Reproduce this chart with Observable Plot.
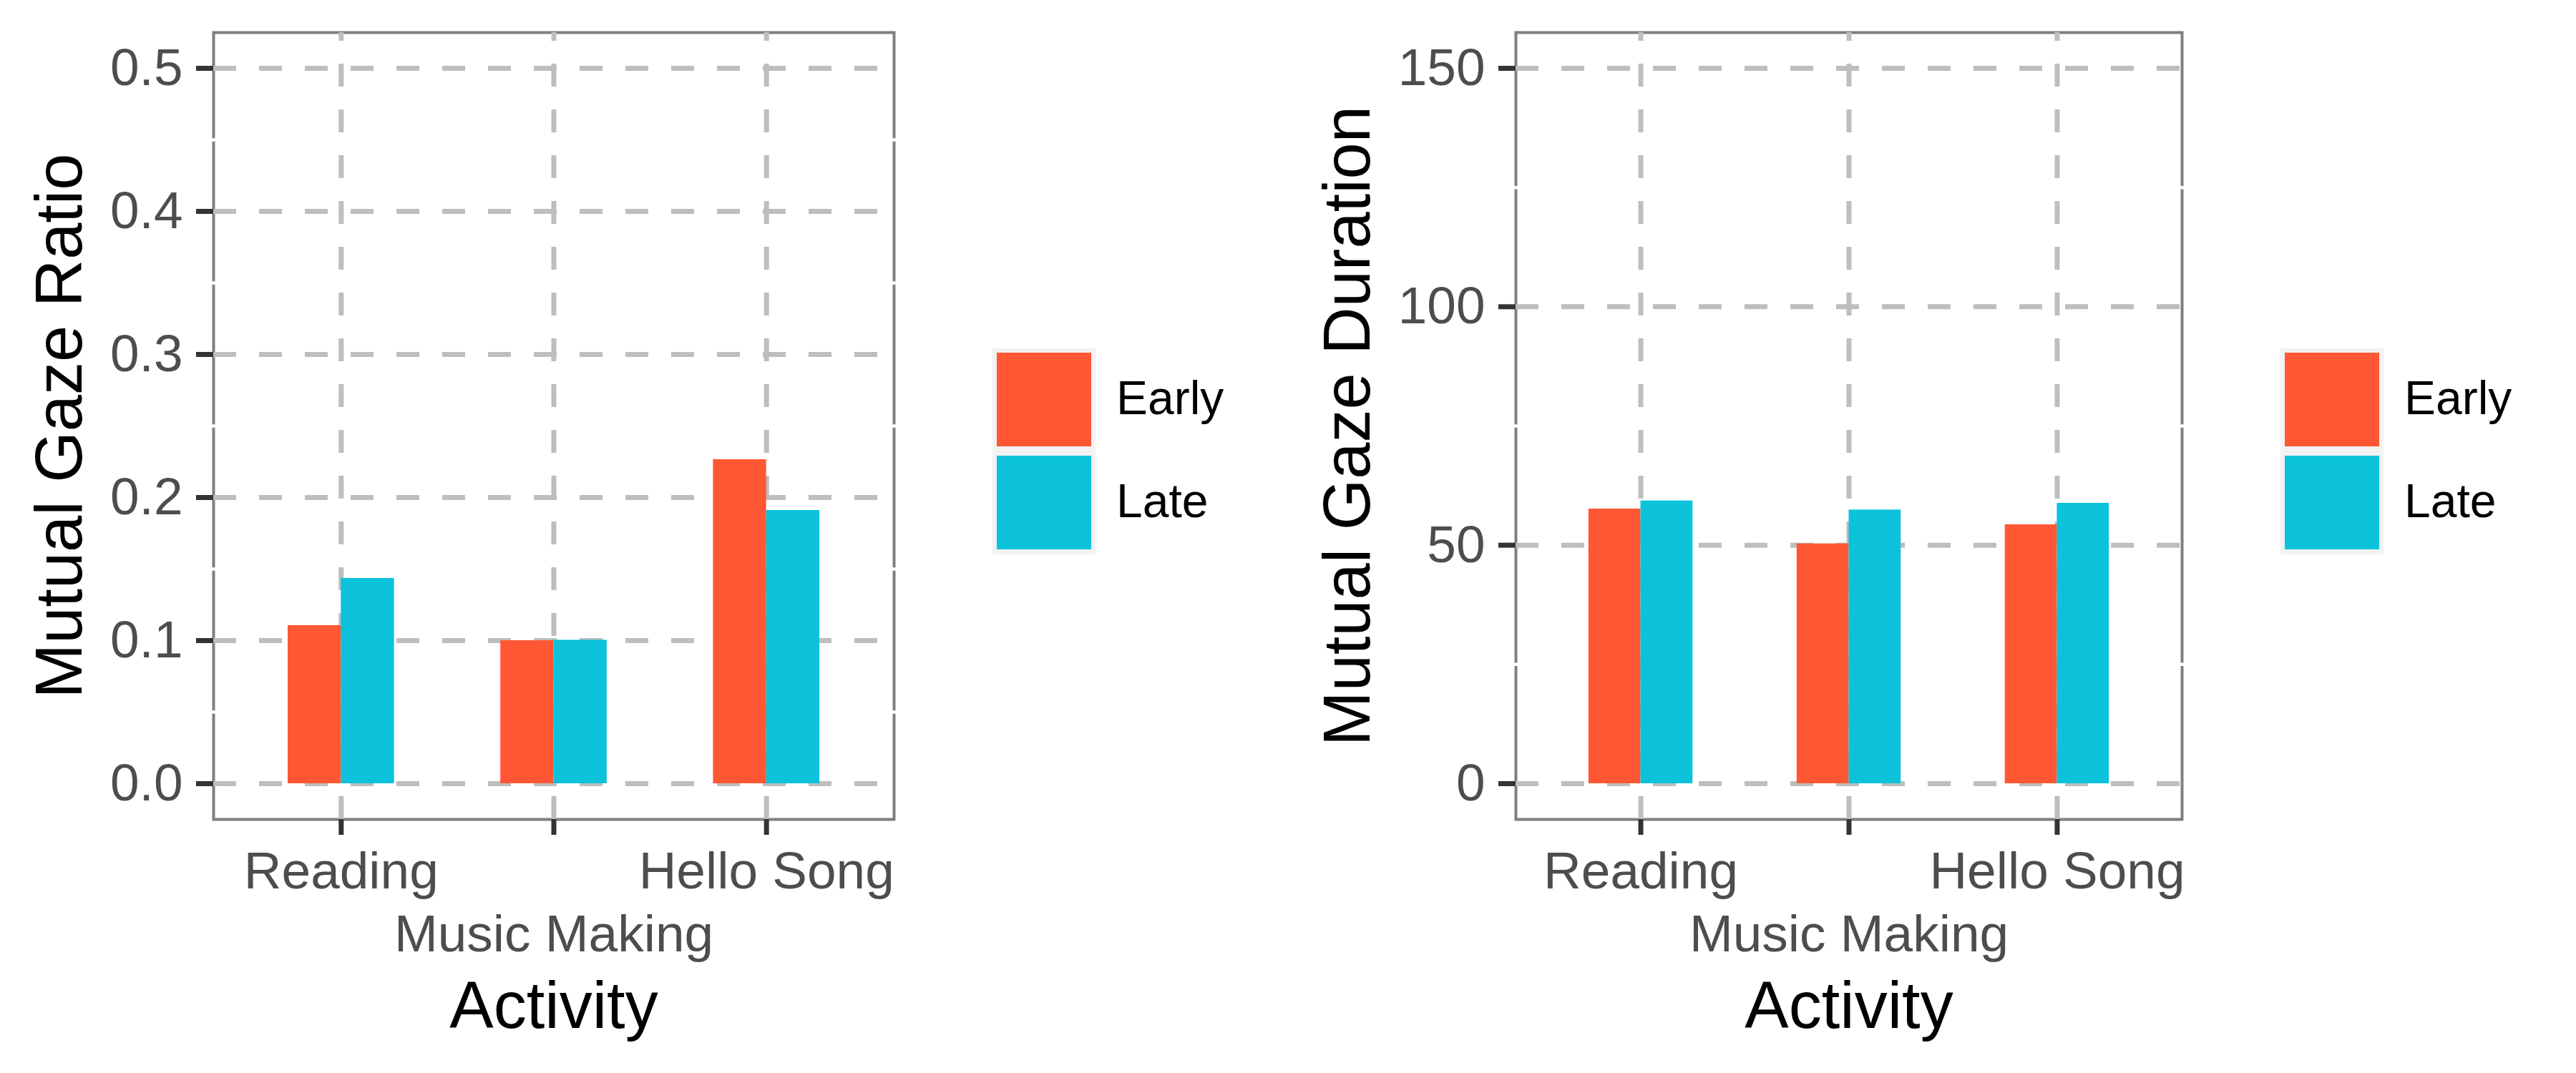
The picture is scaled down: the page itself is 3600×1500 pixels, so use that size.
<!DOCTYPE html>
<html>
<head>
<meta charset="utf-8">
<script src="https://cdn.jsdelivr.net/npm/d3@7"></script>
<script src="https://cdn.jsdelivr.net/npm/@observablehq/plot@0.6"></script>
<style>
  html, body { margin: 0; padding: 0; background: #ffffff; }
  #wrap { display: flex; width: 3600px; height: 1500px; font-family: "Liberation Sans", Arial, sans-serif; }
  .panel { position: relative; width: 1800px; height: 1500px; }
  .panel svg { position: absolute; left: 0; top: 0; }
  .legend { position: absolute; left: 1387px; top: 487px; }
  .keys { position: absolute; left: 0; top: 0; width: 144px; height: 288px; background: #f2f2f2; }
  .key { position: absolute; left: 6px; width: 132px; height: 131px; }
  .lab { position: absolute; left: 173px; font-size: 66px; line-height: 66px; color: #000; white-space: nowrap; }
</style>
</head>
<body>
<div id="wrap"></div>
<script>
// ---- data ----
const categories = ["Reading", "Music Making", "Hello Song"];
const groups = ["Early", "Late"];
const groupColors = ["#FF5733", "#0BC2DA"];

const ratioEarly = [0.1105, 0.100, 0.2265];
const ratioLate  = [0.1435, 0.1003, 0.191];

const durationEarly = [57.6, 50.3, 54.3];
const durationLate  = [59.3, 57.4, 58.8];

const ratioTicks = [0, 0.1, 0.2, 0.3, 0.4, 0.5];
const durationTicks = [0, 50, 100, 150];

const xTitle = "Activity";
const ratioTitle = "Mutual Gaze Ratio";
const durationTitle = "Mutual Gaze Duration";

// ---- helpers ----
const barWidth = 0.25; // ggplot dodge width 0.5 split in two
function rows(early, late) {
  const out = [];
  categories.forEach((c, i) => {
    [early, late].forEach((arr, g) => {
      out.push({category: c, group: groups[g], pos: i + 1, g, value: arr[i]});
    });
  });
  return out;
}

function makeChart(data, ticks, fmt, title, marginLeft) {
  const lo = ticks[0], hi = ticks[ticks.length - 1];
  const pad = (hi - lo) * 0.05;
  const step = ticks[1] - ticks[0];
  const minor = ticks.slice(0, -1).map(t => t + step / 2);
  const yDomain = [lo - pad, hi + pad];
  const n = categories.length;
  const xDomain = [1 - 0.6, n + 0.6];
  const catPos = categories.map((c, i) => i + 1);

  return Plot.plot({
    width: 1800,
    height: 1500,
    marginLeft,
    marginRight: 551,
    marginTop: 45,
    marginBottom: 355,
    style: {fontFamily: '"Liberation Sans", Arial, sans-serif', background: "transparent", overflow: "visible"},
    x: {domain: xDomain},
    y: {domain: yDomain},
    color: {domain: groups, range: groupColors},
    marks: [
      Plot.frame({stroke: "#7f7f7f", strokeWidth: 4}),
      Plot.ruleY(minor, {stroke: "#ffffff", strokeWidth: 4.5, insetLeft: -3, insetRight: -3}),
      Plot.ruleY(ticks, {stroke: "#bebebe", strokeWidth: 7, strokeDasharray: "32,32"}),
      Plot.ruleX(catPos, {y1: yDomain[0], y2: yDomain[1], stroke: "#bebebe", strokeWidth: 7, strokeDasharray: "32,32"}),
      Plot.rect(data, {
        x1: d => d.pos - barWidth + d.g * barWidth,
        x2: d => d.pos + d.g * barWidth,
        y1: 0,
        y2: "value",
        fill: "group"
      }),
      Plot.axisY({ticks, tickFormat: fmt, tickSize: 24, tickPadding: 19, fontSize: 73,
        color: "#4d4d4d", stroke: "#333333", strokeWidth: 7, label: null}),
      Plot.axisX({ticks: catPos.filter((p, i) => i % 2 === 0), tickFormat: p => categories[p - 1],
        tickSize: 22, tickPadding: 23, fontSize: 73, color: "#4d4d4d", stroke: "#333333", strokeWidth: 7, label: null}),
      Plot.axisX({ticks: catPos.filter((p, i) => i % 2 === 1), tickFormat: p => categories[p - 1],
        tickSize: 22, tickPadding: 111, fontSize: 73, color: "#4d4d4d", stroke: "#333333", strokeWidth: 7, label: null}),
      Plot.text([xTitle], {text: d => d, frameAnchor: "bottom", dy: 226, lineAnchor: "top",
        fontSize: 92, fill: "#000000"}),
      Plot.text([title], {text: d => d, frameAnchor: "left", dx: 84 - marginLeft, rotate: -90,
        textAnchor: "middle", lineAnchor: "middle", fontSize: 92, fill: "#000000"})
    ]
  });
}

function makeLegend() {
  const lg = document.createElement("div");
  lg.className = "legend";
  const keys = document.createElement("div");
  keys.className = "keys";
  lg.appendChild(keys);
  groups.forEach((g, i) => {
    const k = document.createElement("div");
    k.className = "key";
    k.style.top = (6 + i * 144) + "px";
    k.style.background = groupColors[i];
    keys.appendChild(k);
    const t = document.createElement("div");
    t.className = "lab";
    t.textContent = g;
    t.style.top = (i * 144 + 72 - 36) + "px";
    lg.appendChild(t);
  });
  return lg;
}

const wrap = document.getElementById("wrap");
const specs = [
  {data: rows(ratioEarly, ratioLate), ticks: ratioTicks, fmt: d3.format(".1f"), title: ratioTitle, ml: 298},
  {data: rows(durationEarly, durationLate), ticks: durationTicks, fmt: d3.format("d"), title: durationTitle, ml: 318}
];
specs.forEach(s => {
  const p = document.createElement("div");
  p.className = "panel";
  p.appendChild(makeChart(s.data, s.ticks, s.fmt, s.title, s.ml));
  p.appendChild(makeLegend());
  wrap.appendChild(p);
});
</script>
</body>
</html>
